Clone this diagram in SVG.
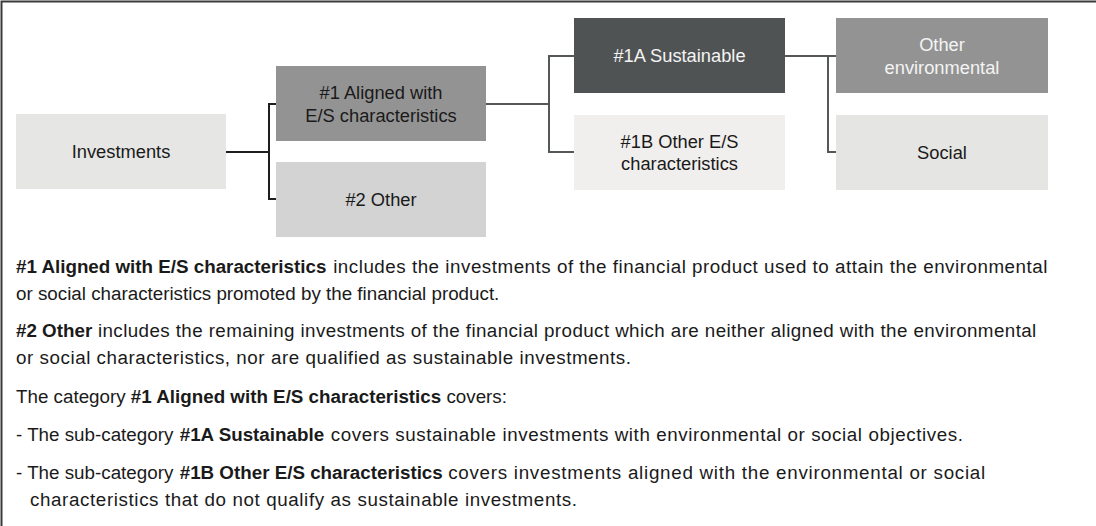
<svg xmlns="http://www.w3.org/2000/svg" width="1096" height="526" viewBox="0 0 1096 526">
<style>
.lbl{font-family:"Liberation Sans",Arial,sans-serif;font-size:18.3px;text-anchor:middle;fill:#1a1a1a}
.wl{fill:#f4f4f4}
.body{font-family:"Liberation Sans",Arial,sans-serif;font-size:18.8px;fill:#1a1a1a}
.b{font-weight:bold}
.c1{fill:none;stroke:#1e1e1e;stroke-width:2}
.c2{fill:none;stroke:#555859;stroke-width:2}
</style>
<rect x="0" y="0" width="1096" height="526" fill="#ffffff"/>
<path d="M1.5 526 V1.5 H1096" fill="none" stroke="#3a3a3a" stroke-width="2"/>
<g id="connectors">
<path class="c1" d="M226 152 H269 M276 104 H269 V199 H276"/>
<path class="c2" d="M486 104 H549 M574 56 H549 V152 H574"/>
<path class="c2" d="M785 56 H836 M828 56 V152 H836"/>
</g>
<g id="investments">
<rect x="16" y="114" width="210" height="75" fill="#e6e6e4"/>
<text class="lbl" x="121" y="158">Investments</text>
</g>
<g id="aligned">
<rect x="276" y="66" width="210" height="75" fill="#939393"/>
<text class="lbl" x="381" y="99">#1 Aligned with</text>
<text class="lbl" x="381" y="122">E/S characteristics</text>
</g>
<g id="other2">
<rect x="276" y="162" width="210" height="75" fill="#d2d3d2"/>
<text class="lbl" x="381" y="206">#2 Other</text>
</g>
<g id="sustainable">
<rect x="574" y="18" width="211" height="75" fill="#505354"/>
<text class="lbl wl" x="679.5" y="62">#1A Sustainable</text>
</g>
<g id="otheres">
<rect x="574" y="115" width="211" height="75" fill="#f0efed"/>
<text class="lbl" x="679.5" y="147.5">#1B Other E/S</text>
<text class="lbl" x="679.5" y="170">characteristics</text>
</g>
<g id="otherenv">
<rect x="836" y="18" width="212" height="75" fill="#939393"/>
<text class="lbl wl" x="942" y="51">Other</text>
<text class="lbl wl" x="942" y="74">environmental</text>
</g>
<g id="social">
<rect x="836" y="115" width="212" height="75" fill="#e5e5e3"/>
<text class="lbl" x="942" y="159">Social</text>
</g>
<g id="notes">
<text class="body" y="273"><tspan class="b" x="16">#1 Aligned with E/S characteristics</tspan><tspan x="327.4" textLength="720" lengthAdjust="spacing"> includes the investments of the financial product used to attain the environmental</tspan></text>
<text class="body" x="16" y="300">or social characteristics promoted by the financial product.</text>
<text class="body" y="337"><tspan class="b" x="16">#2 Other</tspan><tspan x="92.3" textLength="944" lengthAdjust="spacing"> includes the remaining investments of the financial product which are neither aligned with the environmental</tspan></text>
<text class="body" x="16" y="364" textLength="615" lengthAdjust="spacing">or social characteristics, nor are qualified as sustainable investments.</text>
<text class="body" x="16" y="403">The category <tspan class="b">#1 Aligned with E/S characteristics</tspan> covers:</text>
<text class="body" y="441"><tspan x="16">- The sub-category </tspan><tspan class="b" x="179.7">#1A Sustainable</tspan><tspan x="324.9" textLength="638" lengthAdjust="spacing"> covers sustainable investments with environmental or social objectives.</tspan></text>
<text class="body" y="479"><tspan x="16">- The sub-category </tspan><tspan class="b" x="179.7">#1B Other E/S characteristics</tspan><tspan x="442.2" textLength="543" lengthAdjust="spacing"> covers investments aligned with the environmental or social</tspan></text>
<text class="body" x="30" y="506" textLength="547" lengthAdjust="spacing">characteristics that do not qualify as sustainable investments.</text>
</g>
</svg>
